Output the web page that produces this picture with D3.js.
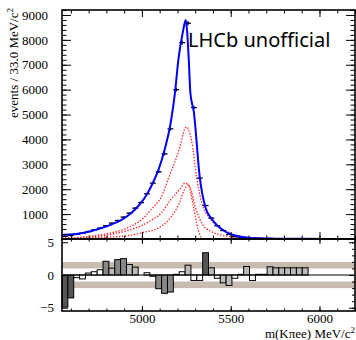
<!DOCTYPE html>
<html>
<head>
<meta charset="utf-8">
<script src="https://cdn.jsdelivr.net/npm/d3@7"></script>
<style>
  body { margin: 0; background: #fff; }
  svg { display: block; }
  .ax text { font-family: "Liberation Serif", serif; font-size: 13px; fill: #000; }
  .ax path { display: none; }
  .ax line { stroke: #000; stroke-width: 1; }
</style>
</head>
<body>
<svg id="chart" width="356" height="340"></svg>
<script>
// bins: 50 x 33 MeV from 4550 to 6200
const binLow = 4550;
const binWidth = 33;
const counts = [110, 140, 197, 237, 300, 370, 437, 530, 638, 743,
  880, 1040, 1240, 1465, 1815, 2244, 2700, 3420, 4424, 6000,
  7890, 8667, 5280, 2445, 1345, 839, 530, 341, 180, 95,
  60, 50, 25, 22, 18, 20, 12, 10, 9, 8,
  7, 6, 0, 0, 0, 0, 0, 0, 0, 0];
const pulls = [-4.9, -3.5, -0.4, -0.6, 0.3, 0.5, 0.8, 2.1, 1.05, 2.35,
  2.5, 1.6, 1.2, 0.0, 0.35, -0.2, -2.1, -2.8, -2.6, 0.1,
  0.5, 1.5, -0.85, -0.85, 3.4, 1.1, -0.5, -1.2, -1.6, -0.5,
  0.1, 1.3, -0.85, 0.1, 0.1, 1.25, 1.1, 1.1, 1.1, 1.1,
  1.1, 1.1, 0, 0, 0, 0, 0, 0, 0, 0];

// total fit (blue)
const fitMass = [4550, 4566.5, 4599.5, 4632.5, 4665.5, 4698.5, 4731.5, 4764.5, 4797.5, 4830.5,
  4863.5, 4896.5, 4929.5, 4962.5, 4995.5, 5028.5, 5061.5, 5094.5, 5127.5, 5160.5,
  5186, 5205, 5233, 5246.6, 5254, 5264, 5273, 5292.5, 5325.5, 5358.5,
  5391.5, 5424.5, 5457.5, 5490.5, 5523.5, 5556.5, 5589.5, 5650, 5750, 5900, 6050, 6200];
const fitVal = [160, 170, 185, 205, 245, 295, 355, 420, 495, 590,
  690, 820, 985, 1195, 1460, 1800, 2250, 2810, 3580, 4600,
  5860, 7190, 8400, 8800, 8390, 7190, 5860, 5100, 2500, 1250,
  820, 540, 350, 220, 140, 90, 60, 30, 15, 6, 2, 1];

// components (dotted)
const compAMass = [4550, 4650, 4726, 4820, 4914, 5008, 5060, 5102, 5158, 5214, 5240, 5252, 5265, 5280, 5308, 5337, 5374, 5421, 5477, 5552, 5650, 5800, 6200];
const compAVal = [35, 70, 128, 237, 437, 840, 1250, 1600, 2600, 3700, 4400, 4500, 4350, 3950, 2500, 1450, 900, 570, 300, 110, 40, 10, 0];
const compBMass = [4550, 4726, 4820, 4914, 5008, 5060, 5110, 5160, 5214, 5243, 5271, 5300, 5340, 5390, 5439, 5500, 5600, 5800, 6200];
const compBVal = [20, 90, 180, 330, 570, 780, 1050, 1560, 2003, 2245, 2083, 1300, 600, 300, 170, 90, 40, 10, 0];
const compCMass = [4550, 4726, 4820, 4914, 5008, 5102, 5160, 5214, 5240, 5261, 5290, 5317, 5336, 5345, 6200];
const compCVal = [10, 50, 80, 128, 261, 478, 850, 1500, 2000, 2175, 1300, 370, 36, 0, 0];

const yTicksMain = [1000, 2000, 3000, 4000, 5000, 6000, 7000, 8000, 9000];
const xTicks = [5000, 5500, 6000];
const pullTicks = [-5, 0, 5];

const svg = d3.select("#chart");
const padL = 62, padR = 355, padT = 10, padMid = 239, padB = 311;

const x = d3.scaleLinear().domain([4550, 6200]).range([padL, padR]);
const y = d3.scaleLinear().domain([0, 9200]).range([padMid, padT]);
const yp = d3.scaleLinear().domain([-5.5, 5.5]).range([padB, padMid]);

const bins = counts.map(function (c, i) {
  return { lo: binLow + i * binWidth, hi: binLow + (i + 1) * binWidth, n: c, pull: pulls[i] };
});

// ---- main panel ----
const clipMain = svg.append("clipPath").attr("id", "clipMain");
clipMain.append("rect").attr("x", padL).attr("y", padT).attr("width", padR - padL).attr("height", padMid - padT);

const plot = svg.append("g").attr("clip-path", "url(#clipMain)");

function curveLine(ms, vs) {
  return d3.line()
    .x(function (d, i) { return x(ms[i]); })
    .y(function (d) { return y(d); })
    .curve(d3.curveMonotoneX)(vs);
}

plot.append("path").attr("d", curveLine(compCMass, compCVal))
  .attr("fill", "none").attr("stroke", "#ff2020").attr("stroke-width", 1.3).attr("stroke-dasharray", "1.4 1.6");
plot.append("path").attr("d", curveLine(compBMass, compBVal))
  .attr("fill", "none").attr("stroke", "#ff2020").attr("stroke-width", 1.3).attr("stroke-dasharray", "1.4 1.6");
plot.append("path").attr("d", curveLine(compAMass, compAVal))
  .attr("fill", "none").attr("stroke", "#ff2020").attr("stroke-width", 1.3).attr("stroke-dasharray", "1.4 1.6");

// data crosses
const pts = plot.append("g").attr("stroke", "#000").attr("stroke-width", 1.3);
bins.filter(function (b) { return b.n > 0; }).forEach(function (b) {
  const cx = x((b.lo + b.hi) / 2);
  const e = Math.sqrt(b.n);
  pts.append("line").attr("x1", x(b.lo)).attr("x2", x(b.hi)).attr("y1", y(b.n)).attr("y2", y(b.n));
  pts.append("line").attr("x1", cx).attr("x2", cx).attr("y1", y(b.n - e)).attr("y2", y(b.n + e));
});

plot.append("path").attr("d", curveLine(fitMass, fitVal))
  .attr("fill", "none").attr("stroke", "#0000ff").attr("stroke-width", 2);

// LHCb label
svg.append("text").attr("x", 188).attr("y", 47)
  .attr("font-family", "Noto Sans, sans-serif").attr("font-size", 20)
  .text("LHCb unofficial");

// ---- pull panel ----
const pp = svg.append("g");
[[1, 2], [-2, -1]].forEach(function (b) {
  pp.append("rect").attr("x", padL).attr("width", padR - padL)
    .attr("y", yp(b[1])).attr("height", yp(b[0]) - yp(b[1]))
    .attr("fill", "#c8bbb0");
});

function pullColor(p) {
  const a = Math.abs(p);
  if (a >= 3) return "#555555";
  if (a >= 2) return "#888888";
  if (a >= 1) return "#bbbbbb";
  return "#ffffff";
}

pp.selectAll("rect.bar")
  .data(bins.filter(function (b) { return b.pull !== 0; }))
  .enter()
  .append("rect")
  .attr("class", "bar")
  .attr("x", function (d) { return x(d.lo); })
  .attr("width", function (d) { return x(d.hi) - x(d.lo); })
  .attr("y", function (d) { return yp(Math.max(0, d.pull)); })
  .attr("height", function (d) { return Math.abs(yp(d.pull) - yp(0)); })
  .attr("fill", function (d) { return pullColor(d.pull); })
  .attr("stroke", "#000").attr("stroke-width", 1);

pp.append("line").attr("x1", padL).attr("x2", padR).attr("y1", yp(0)).attr("y2", yp(0))
  .attr("stroke", "#000").attr("stroke-width", 1.2);

// ---- axes ----
function range(a, b, s) { return d3.range(a, b + s / 2, s); }

// main
svg.append("g").attr("class", "ax").attr("transform", "translate(" + padL + ",0)")
  .call(d3.axisLeft(y).tickValues(yTicksMain).tickSize(-9).tickPadding(14).tickFormat(d3.format("d")));
svg.append("g").attr("class", "ax").attr("transform", "translate(" + padL + ",0)")
  .call(d3.axisLeft(y).tickValues(range(200, 9200, 200)).tickSize(-4.5).tickFormat(""));
svg.append("g").attr("class", "ax").attr("transform", "translate(" + padR + ",0)")
  .call(d3.axisRight(y).tickValues(yTicksMain).tickSize(-9).tickFormat(""));
svg.append("g").attr("class", "ax").attr("transform", "translate(" + padR + ",0)")
  .call(d3.axisRight(y).tickValues(range(200, 9200, 200)).tickSize(-4.5).tickFormat(""));
svg.append("g").attr("class", "ax").attr("transform", "translate(0," + padT + ")")
  .call(d3.axisTop(x).tickValues(xTicks).tickSize(-7).tickFormat(""));
svg.append("g").attr("class", "ax").attr("transform", "translate(0," + padT + ")")
  .call(d3.axisTop(x).tickValues(range(4600, 6200, 100)).tickSize(-3.5).tickFormat(""));
svg.append("g").attr("class", "ax").attr("transform", "translate(0," + padMid + ")")
  .call(d3.axisBottom(x).tickValues(xTicks).tickSize(-7).tickFormat(""));
svg.append("g").attr("class", "ax").attr("transform", "translate(0," + padMid + ")")
  .call(d3.axisBottom(x).tickValues(range(4600, 6200, 100)).tickSize(-3.5).tickFormat(""));

// pull
svg.append("g").attr("class", "ax").attr("transform", "translate(" + padL + ",0)")
  .call(d3.axisLeft(yp).tickValues(pullTicks).tickSize(-6).tickPadding(8)
    .tickFormat(function (d) { return d < 0 ? "\u2212" + (-d) : d; }));
svg.append("g").attr("class", "ax").attr("transform", "translate(" + padR + ",0)")
  .call(d3.axisRight(yp).tickValues(range(-5, 5, 1)).tickSize(-3).tickFormat(""));
svg.append("g").attr("class", "ax").attr("transform", "translate(" + padR + ",0)")
  .call(d3.axisRight(yp).tickValues(pullTicks).tickSize(-6).tickFormat(""));
svg.append("g").attr("class", "ax").attr("transform", "translate(0," + padB + ")")
  .call(d3.axisBottom(x).tickValues(xTicks).tickSize(-5).tickPadding(3).tickFormat(d3.format("d")));
svg.append("g").attr("class", "ax").attr("transform", "translate(0," + padB + ")")
  .call(d3.axisBottom(x).tickValues(range(4600, 6200, 100)).tickSize(-2.5).tickFormat(""));
svg.append("g").attr("class", "ax").attr("transform", "translate(0," + padMid + ")")
  .call(d3.axisTop(x).tickValues(xTicks).tickSize(-5).tickFormat(""));
svg.append("g").attr("class", "ax").attr("transform", "translate(0," + padMid + ")")
  .call(d3.axisTop(x).tickValues(range(4600, 6200, 100)).tickSize(-2.5).tickFormat(""));

// frames
[[padT, padMid], [padMid, padB]].forEach(function (f) {
  svg.append("rect").attr("x", padL).attr("y", f[0]).attr("width", padR - padL).attr("height", f[1] - f[0])
    .attr("fill", "none").attr("stroke", "#000").attr("stroke-width", 1.6);
});

// titles
const yt = svg.append("text").attr("transform", "translate(18,8) rotate(-90)")
  .attr("text-anchor", "end")
  .attr("font-family", "Liberation Serif, serif").attr("font-size", 13);
yt.append("tspan").text("events / 33.0 MeV/c");
yt.append("tspan").attr("dy", -5).attr("font-size", 9).text("2");

const xt = svg.append("text").attr("x", 355).attr("y", 338)
  .attr("text-anchor", "end")
  .attr("font-family", "Liberation Serif, serif").attr("font-size", 13);
xt.append("tspan").text("m(K\u03c0ee) MeV/c");
xt.append("tspan").attr("dy", -5).attr("font-size", 9).text("2");
</script>
</body>
</html>
